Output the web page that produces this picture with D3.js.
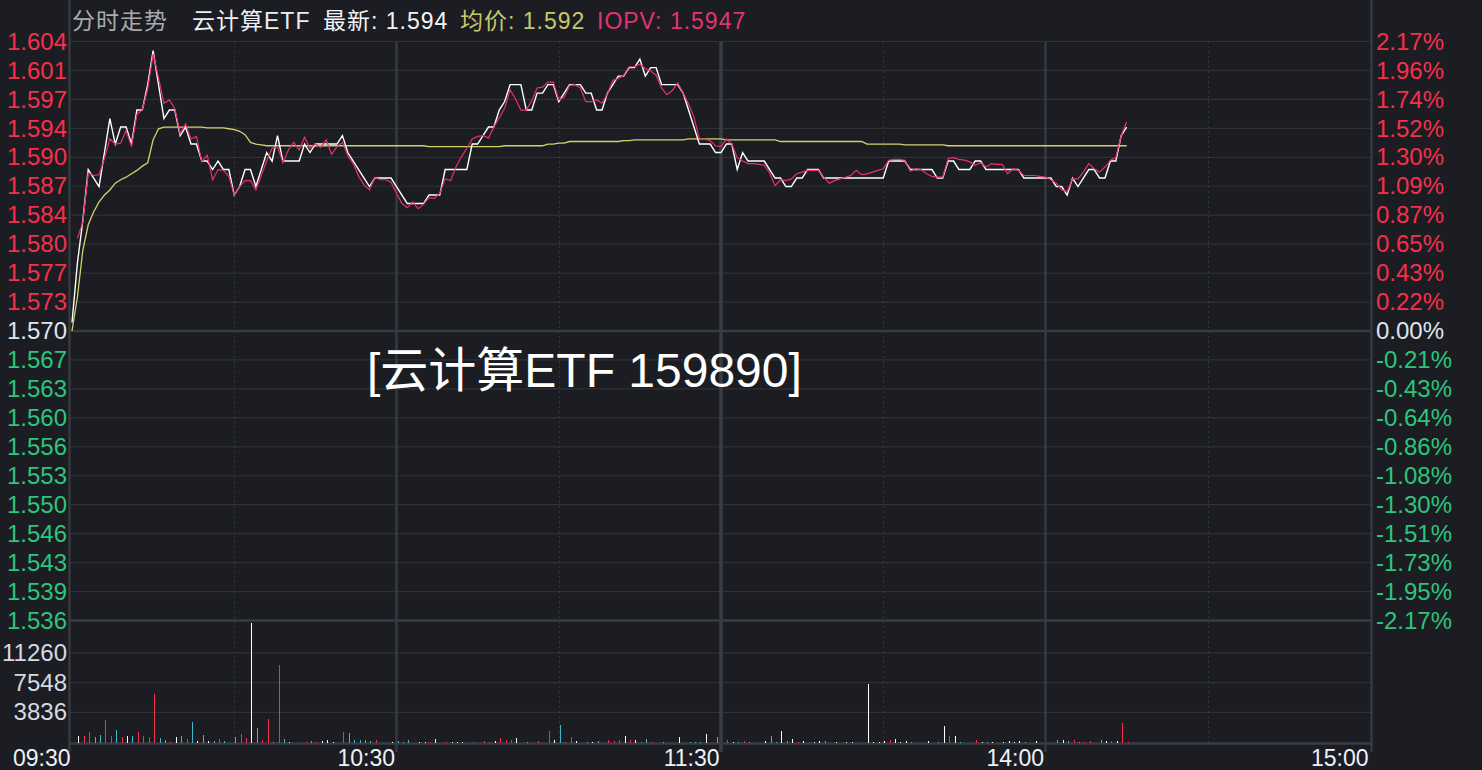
<!DOCTYPE html>
<html>
<head>
<meta charset="utf-8">
<script src="https://cdn.jsdelivr.net/npm/d3@7"></script>
<style>
    html, body { margin: 0; padding: 0; background: #1b1d22; }
    svg { display: block; }
    text { font-family: "Liberation Sans", Arial, "Noto Sans CJK SC", sans-serif; }
</style>
</head>
<body>
<svg id="chart" width="1482" height="770"></svg>
<script>
// 昨收和价格轴上下限
const prevClose = 1.570;
const priceTop = 1.60407;

const headerLabels = ["分时走势", "云计算ETF", "最新: 1.594", "均价: 1.592", "IOPV: 1.5947"];
const watermarkLabel = "[云计算ETF 159890]";

const priceTickLabels = ["1.604", "1.601", "1.597", "1.594", "1.590", "1.587", "1.584", "1.580", "1.577", "1.573",
    "1.570",
    "1.567", "1.563", "1.560", "1.556", "1.553", "1.550", "1.546", "1.543", "1.539", "1.536"];
const pctTickLabels = ["2.17%", "1.96%", "1.74%", "1.52%", "1.30%", "1.09%", "0.87%", "0.65%", "0.43%", "0.22%",
    "0.00%",
    "-0.21%", "-0.43%", "-0.64%", "-0.86%", "-1.08%", "-1.30%", "-1.51%", "-1.73%", "-1.95%", "-2.17%"];
const volTickValues = [11260, 7548, 3836];
const timeTickMinutes = [0, 60, 120, 180, 240];
const timeTickLabels = ["09:30", "10:30", "11:30", "14:00", "15:00"];
const solidGridMinutes = [60, 120, 180];
const dottedGridMinutes = [30, 90, 150, 210];

// 每分钟价格 (09:30 起)
const priceSeries = [
    1.571, 1.578, 1.583, 1.589, 1.588, 1.587, 1.591, 1.595, 1.592, 1.594,
    1.594, 1.592, 1.596, 1.596, 1.599, 1.603, 1.599, 1.595, 1.596, 1.596,
    1.593, 1.594, 1.592, 1.592, 1.590, 1.590, 1.589, 1.590, 1.589, 1.589,
    1.586, 1.587, 1.589, 1.589, 1.587, 1.589, 1.591, 1.590, 1.593, 1.590,
    1.590, 1.590, 1.590, 1.592, 1.591, 1.592, 1.592, 1.592, 1.592, 1.592,
    1.593, 1.591, 1.590, 1.589, 1.588, 1.587, 1.588, 1.588, 1.588, 1.588,
    1.587, 1.586, 1.585, 1.585, 1.585, 1.585, 1.586, 1.586, 1.586, 1.589,
    1.589, 1.589, 1.589, 1.589, 1.592, 1.592, 1.593, 1.594, 1.594, 1.596,
    1.597, 1.599, 1.599, 1.599, 1.596, 1.596, 1.598, 1.598, 1.599, 1.599,
    1.597, 1.598, 1.599, 1.599, 1.599, 1.598, 1.598, 1.596, 1.596, 1.598,
    1.599, 1.600, 1.600, 1.601, 1.601, 1.602, 1.600, 1.601, 1.601, 1.599,
    1.599, 1.599, 1.599, 1.598, 1.596, 1.594, 1.592, 1.592, 1.592, 1.591,
    1.591, 1.592, 1.592, 1.589, 1.591, 1.590, 1.590, 1.590, 1.590, 1.589,
    1.588, 1.588, 1.587, 1.587, 1.588, 1.588, 1.589, 1.589, 1.589, 1.588,
    1.588, 1.588, 1.588, 1.588, 1.588, 1.588, 1.588, 1.588, 1.588, 1.588,
    1.588, 1.590, 1.590, 1.590, 1.590, 1.589, 1.589, 1.589, 1.589, 1.589,
    1.588, 1.588, 1.590, 1.590, 1.589, 1.589, 1.589, 1.590, 1.590, 1.589,
    1.589, 1.589, 1.589, 1.589, 1.589, 1.589, 1.588, 1.588, 1.588, 1.588,
    1.588, 1.588, 1.587, 1.587, 1.586, 1.588, 1.587, 1.588, 1.589, 1.589,
    1.588, 1.588, 1.590, 1.590, 1.593, 1.594
];

const iopvSeries = [
    null, 1.5809, 1.5828, 1.5886, 1.5883, 1.5884, 1.5903, 1.5926, 1.5920, 1.5921,
    1.5936, 1.5917, 1.5955, 1.5960, 1.5985, 1.6026, 1.5998, 1.5968, 1.5972, 1.5962,
    1.5932, 1.5944, 1.5926, 1.5929, 1.5899, 1.5907, 1.5878, 1.5890, 1.5889, 1.5882,
    1.5860, 1.5870, 1.5877, 1.5877, 1.5866, 1.5883, 1.5900, 1.5915, 1.5917, 1.5898,
    1.5913, 1.5922, 1.5913, 1.5928, 1.5915, 1.5920, 1.5916, 1.5925, 1.5908, 1.5917,
    1.5922, 1.5906, 1.5897, 1.5882, 1.5872, 1.5866, 1.5881, 1.5878, 1.5878, 1.5875,
    1.5862, 1.5850, 1.5845, 1.5852, 1.5844, 1.5849, 1.5857, 1.5856, 1.5862, 1.5879,
    1.5877, 1.5893, 1.5905, 1.5915, 1.5926, 1.5929, 1.5930, 1.5927, 1.5940, 1.5951,
    1.5962, 1.5984, 1.5973, 1.5960, 1.5960, 1.5971, 1.5986, 1.5987, 1.5993, 1.5993,
    1.5972, 1.5975, 1.5989, 1.5990, 1.5986, 1.5970, 1.5970, 1.5972, 1.5968, 1.5979,
    1.5995, 1.5997, 1.6001, 1.6011, 1.6011, 1.6014, 1.6009, 1.6006, 1.6001, 1.5986,
    1.5978, 1.5983, 1.5992, 1.5980, 1.5967, 1.5952, 1.5926, 1.5926, 1.5924, 1.5918,
    1.5917, 1.5926, 1.5920, 1.5904, 1.5900, 1.5897, 1.5897, 1.5896, 1.5895, 1.5886,
    1.5871, 1.5878, 1.5877, 1.5879, 1.5885, 1.5887, 1.5889, 1.5889, 1.5889, 1.5881,
    1.5874, 1.5877, 1.5879, 1.5881, 1.5883, 1.5889, 1.5884, 1.5885, 1.5887, 1.5889,
    1.5891, 1.5901, 1.5902, 1.5902, 1.5901, 1.5888, 1.5891, 1.5890, 1.5885, 1.5882,
    1.5881, 1.5881, 1.5903, 1.5904, 1.5902, 1.5901, 1.5899, 1.5895, 1.5898, 1.5893,
    1.5897, 1.5896, 1.5896, 1.5885, 1.5891, 1.5889, 1.5883, 1.5883, 1.5883, 1.5882,
    1.5881, 1.5878, 1.5874, 1.5866, 1.5864, 1.5879, 1.5879, 1.5887, 1.5897, 1.5891,
    1.5887, 1.5893, 1.5901, 1.5904, 1.5930, 1.5946
];

const avgSeries = [
    1.5700, 1.5740, 1.5795, 1.5825, 1.5840, 1.5852, 1.5860, 1.5866, 1.5874, 1.5878,
    1.5881, 1.5885, 1.5889, 1.5894, 1.5898, 1.5925, 1.5938, 1.5940, 1.5940, 1.5940,
    1.5940, 1.5940, 1.5940, 1.5940, 1.5940, 1.5939, 1.5939, 1.5939, 1.5939, 1.5938,
    1.5937, 1.5935, 1.5931, 1.5922, 1.5920, 1.5919, 1.5918, 1.5918, 1.5918, 1.5918,
    1.5918, 1.5918, 1.5918, 1.5918, 1.5918, 1.5918, 1.5918, 1.5918, 1.5918, 1.5918,
    1.5918, 1.5918, 1.5918, 1.5918, 1.5918, 1.5918, 1.5918, 1.5918, 1.5918, 1.5918,
    1.5918, 1.5918, 1.5918, 1.5918, 1.5918, 1.5918, 1.5917, 1.5917, 1.5917, 1.5917,
    1.5917, 1.5917, 1.5917, 1.5917, 1.5917, 1.5917, 1.5917, 1.5917, 1.5917, 1.5917,
    1.5918, 1.5918, 1.5918, 1.5918, 1.5918, 1.5918, 1.5918, 1.5918, 1.5920, 1.5920,
    1.5921, 1.5921, 1.5923, 1.5923, 1.5923, 1.5923, 1.5923, 1.5923, 1.5923, 1.5923,
    1.5923, 1.5923, 1.5924, 1.5924, 1.5925, 1.5925, 1.5925, 1.5925, 1.5925, 1.5925,
    1.5925, 1.5925, 1.5925, 1.5925, 1.5926, 1.5926, 1.5926, 1.5926, 1.5926, 1.5926,
    1.5926, 1.5925, 1.5925, 1.5925, 1.5925, 1.5925, 1.5925, 1.5925, 1.5925, 1.5925,
    1.5925, 1.5923, 1.5923, 1.5923, 1.5923, 1.5923, 1.5923, 1.5923, 1.5923, 1.5923,
    1.5923, 1.5923, 1.5923, 1.5923, 1.5923, 1.5923, 1.5923, 1.5920, 1.5920, 1.5920,
    1.5920, 1.5920, 1.5920, 1.5920, 1.5919, 1.5919, 1.5919, 1.5919, 1.5919, 1.5919,
    1.5919, 1.5919, 1.5918, 1.5918, 1.5918, 1.5918, 1.5918, 1.5918, 1.5918, 1.5918,
    1.5918, 1.5918, 1.5918, 1.5918, 1.5918, 1.5918, 1.5918, 1.5918, 1.5918, 1.5918,
    1.5918, 1.5918, 1.5918, 1.5918, 1.5918, 1.5918, 1.5918, 1.5918, 1.5918, 1.5918,
    1.5918, 1.5918, 1.5918, 1.5918, 1.5918, 1.5918
];

// 成交量 (手) 和方向: u 上涨, d 下跌, f 平
const volSeries = [
    0, 830, 830, 1410, 710, 1040, 2910, 910, 1660, 710,
    910, 910, 1410, 910, 710, 6150, 660, 420, 170, 790,
    910, 540, 2660, 290, 1040, 290, 290, 540, 290, 0,
    790, 1160, 660, 15000, 1910, 420, 3030, 170, 9770, 540,
    170, 0, 0, 170, 290, 170, 290, 420, 170, 0,
    1410, 1290, 420, 420, 420, 290, 420, 0, 0, 170,
    290, 170, 420, 0, 170, 170, 170, 540, 0, 170,
    170, 170, 170, 0, 170, 0, 290, 170, 290, 660,
    420, 420, 660, 0, 170, 0, 290, 0, 1540, 420,
    2290, 170, 790, 290, 0, 170, 170, 290, 0, 420,
    290, 420, 910, 420, 420, 170, 540, 170, 0, 170,
    0, 0, 790, 0, 170, 170, 170, 1160, 0, 790,
    0, 420, 170, 170, 290, 170, 0, 0, 290, 910,
    170, 1540, 290, 540, 170, 290, 170, 170, 290, 290,
    0, 170, 0, 170, 170, 0, 0, 7400, 170, 170,
    290, 420, 540, 170, 290, 170, 0, 0, 290, 0,
    170, 2160, 910, 910, 170, 0, 0, 420, 170, 170,
    170, 0, 170, 290, 170, 290, 170, 0, 290, 0,
    0, 0, 420, 420, 290, 420, 170, 170, 290, 0,
    420, 290, 290, 290, 2540, 170
];
const volDir = [
    "f", "f", "u", "u", "d", "d", "u", "u", "d", "u",
    "f", "d", "u", "u", "u", "u", "d", "d", "u", "f",
    "d", "u", "d", "f", "d", "f", "d", "u", "d", "f",
    "d", "u", "u", "f", "d", "u", "u", "d", "u", "d",
    "f", "f", "f", "u", "d", "u", "f", "f", "f", "f",
    "u", "d", "d", "d", "d", "d", "u", "f", "f", "f",
    "d", "d", "d", "f", "f", "f", "u", "f", "f", "u",
    "f", "f", "f", "f", "u", "f", "u", "u", "f", "u",
    "u", "u", "f", "f", "d", "f", "u", "f", "u", "f",
    "d", "u", "u", "f", "f", "d", "f", "d", "f", "u",
    "u", "u", "f", "u", "f", "u", "d", "u", "f", "d",
    "f", "f", "f", "d", "d", "d", "d", "f", "f", "d",
    "f", "u", "f", "d", "u", "d", "f", "f", "f", "d",
    "d", "f", "d", "f", "u", "f", "u", "f", "f", "d",
    "f", "f", "f", "f", "f", "f", "f", "f", "f", "f",
    "f", "u", "f", "f", "f", "d", "f", "f", "f", "f",
    "d", "f", "u", "f", "d", "f", "f", "u", "f", "d",
    "f", "f", "f", "f", "f", "f", "d", "f", "f", "f",
    "f", "f", "d", "f", "d", "u", "d", "u", "u", "f",
    "d", "f", "u", "f", "u", "u"
];

const W = 1482, H = 770;
const plotLeft = 72, plotRight = 1370;
const frameLeft = 69.5, frameRight = 1371.5;
const priceTopY = 41.5, priceBottomY = 620.5;
const volTopY = 621, volBottomY = 743;

const colors = {
    bg: "#1b1d22",
    grid: "#2f3137",
    frame: "#3a3c43",
    dots: "#4b4e56",
    up: "#f72f4c",
    down: "#2cc57c",
    flat: "#dfe5ee",
    price: "#ffffff",
    iopv: "#e8306c",
    avg: "#d2d26a",
    volUp: "#f72f4c",
    volDown: "#44b9c6",
    volFlat: "#ffffff"
};

const svg = d3.select("#chart");
svg.append("rect").attr("width", W).attr("height", H).attr("fill", colors.bg);

const x = d3.scaleLinear().domain([0, 240]).range([plotLeft, plotRight]);
const y = d3.scaleLinear()
    .domain([2 * prevClose - priceTop, priceTop])
    .range([priceBottomY, priceTopY]);
const yv = d3.scaleLinear().domain([0, 15250]).range([volBottomY, volTopY]);

const step = (priceTop - prevClose) / 10;
const priceTickValues = d3.range(10, -11, -1).map(k => prevClose + k * step);

// 网格
const grid = svg.append("g");
priceTickValues.forEach((v, i) => {
    const special = i === 10 || i === 20;
    grid.append("line")
        .attr("x1", frameLeft).attr("x2", frameRight)
        .attr("y1", y(v)).attr("y2", y(v))
        .attr("stroke", special ? colors.frame : colors.grid)
        .attr("stroke-width", special ? 2.5 : 1.2);
});
volTickValues.forEach(v => {
    grid.append("line")
        .attr("x1", frameLeft).attr("x2", frameRight)
        .attr("y1", yv(v)).attr("y2", yv(v))
        .attr("stroke", colors.grid).attr("stroke-width", 1.2);
});
grid.append("line")
    .attr("x1", frameLeft).attr("x2", frameRight)
    .attr("y1", volBottomY + 0.5).attr("y2", volBottomY + 0.5)
    .attr("stroke", colors.frame).attr("stroke-width", 2.5);

dottedGridMinutes.forEach(m => {
    grid.append("line")
        .attr("x1", Math.round(x(m)) + 0.5).attr("x2", Math.round(x(m)) + 0.5)
        .attr("y1", priceTopY).attr("y2", volBottomY)
        .attr("stroke", colors.dots).attr("stroke-width", 1)
        .attr("stroke-dasharray", "1,4");
});
solidGridMinutes.forEach(m => {
    grid.append("line")
        .attr("x1", x(m)).attr("x2", x(m))
        .attr("y1", priceTopY).attr("y2", volBottomY + 9)
        .attr("stroke", colors.frame)
        .attr("stroke-width", m === 120 ? 3.5 : 2.2);
});
[frameLeft, frameRight].forEach(fx => {
    grid.append("line")
        .attr("x1", fx).attr("x2", fx)
        .attr("y1", 0).attr("y2", volBottomY + 9)
        .attr("stroke", colors.frame).attr("stroke-width", 2.2);
});

// 成交量
const volColor = d => d === "u" ? colors.volUp : (d === "d" ? colors.volDown : colors.volFlat);
svg.append("g")
    .attr("shape-rendering", "crispEdges")
    .selectAll("rect")
    .data(volSeries.map((v, i) => ({ i, v, dir: volDir[i] })).filter(d => d.v > 0))
    .join("rect")
    .attr("x", d => Math.round(x(d.i)) + 1)
    .attr("width", 1)
    .attr("y", d => yv(d.v))
    .attr("height", d => yv(0) - yv(d.v))
    .attr("fill", d => volColor(d.dir));

// 价格线
const line = d3.line()
    .defined(d => d != null)
    .x((d, i) => x(i))
    .y(d => y(d));

svg.append("path").datum(avgSeries)
    .attr("d", line).attr("fill", "none")
    .attr("stroke", colors.avg).attr("stroke-width", 1.3);
svg.append("path").datum(priceSeries)
    .attr("d", line).attr("fill", "none")
    .attr("stroke", colors.price).attr("stroke-width", 1.4);
svg.append("path").datum(iopvSeries)
    .attr("d", line).attr("fill", "none")
    .attr("stroke", colors.iopv).attr("stroke-width", 1.2);

// 坐标轴
const tickColor = i => i < 10 ? colors.up : (i === 10 ? colors.flat : colors.down);

const leftAxis = svg.append("g")
    .attr("transform", "translate(67,0)")
    .call(d3.axisLeft(y).tickValues(priceTickValues)
        .tickFormat((d, i) => priceTickLabels[i]).tickSize(0).tickPadding(0));
leftAxis.select(".domain").remove();
leftAxis.selectAll("text")
    .attr("font-size", 24)
    .attr("font-family", "Liberation Sans, Arial, sans-serif")
    .attr("fill", (d, i) => tickColor(i));

const rightAxis = svg.append("g")
    .attr("transform", "translate(1376,0)")
    .call(d3.axisRight(y).tickValues(priceTickValues)
        .tickFormat((d, i) => pctTickLabels[i]).tickSize(0).tickPadding(0));
rightAxis.select(".domain").remove();
rightAxis.selectAll("text")
    .attr("font-size", 24)
    .attr("font-family", "Liberation Sans, Arial, sans-serif")
    .attr("fill", (d, i) => tickColor(i));

const volAxis = svg.append("g")
    .attr("transform", "translate(67,0)")
    .call(d3.axisLeft(yv).tickValues(volTickValues).tickSize(0).tickPadding(0)
        .tickFormat(d3.format("d")));
volAxis.select(".domain").remove();
volAxis.selectAll("text")
    .attr("font-size", 24)
    .attr("font-family", "Liberation Sans, Arial, sans-serif")
    .attr("fill", "#d6dae2");

const timeAxis = svg.append("g")
    .attr("transform", `translate(0,${volBottomY})`)
    .call(d3.axisBottom(x).tickValues(timeTickMinutes)
        .tickFormat((d, i) => timeTickLabels[i]).tickSize(0).tickPadding(0));
timeAxis.select(".domain").remove();
timeAxis.selectAll("text")
    .attr("font-size", 23)
    .attr("font-family", "Liberation Sans, Arial, sans-serif")
    .attr("fill", "#eef2f8")
    .attr("text-anchor", "end")
    .attr("x", -2)
    .attr("y", 23)
    .attr("dy", 0);

// 标题
const headerX = [72, 192, 323, 460, 597];
const headerColors = ["#a9abb0", "#eceef2", "#f2f4f8", "#c9c66c", "#e2346f"];
svg.append("g").selectAll("text")
    .data(headerLabels)
    .join("text")
    .attr("x", (d, i) => headerX[i])
    .attr("y", 29)
    .attr("font-size", 23)
    .attr("letter-spacing", 1)
    .attr("fill", (d, i) => headerColors[i])
    .text(d => d);

// 水印
svg.append("text")
    .attr("x", 367)
    .attr("y", 387)
    .attr("font-size", 48)
    .attr("fill", "#ffffff")
    .text(watermarkLabel);
</script>
</body>
</html>
